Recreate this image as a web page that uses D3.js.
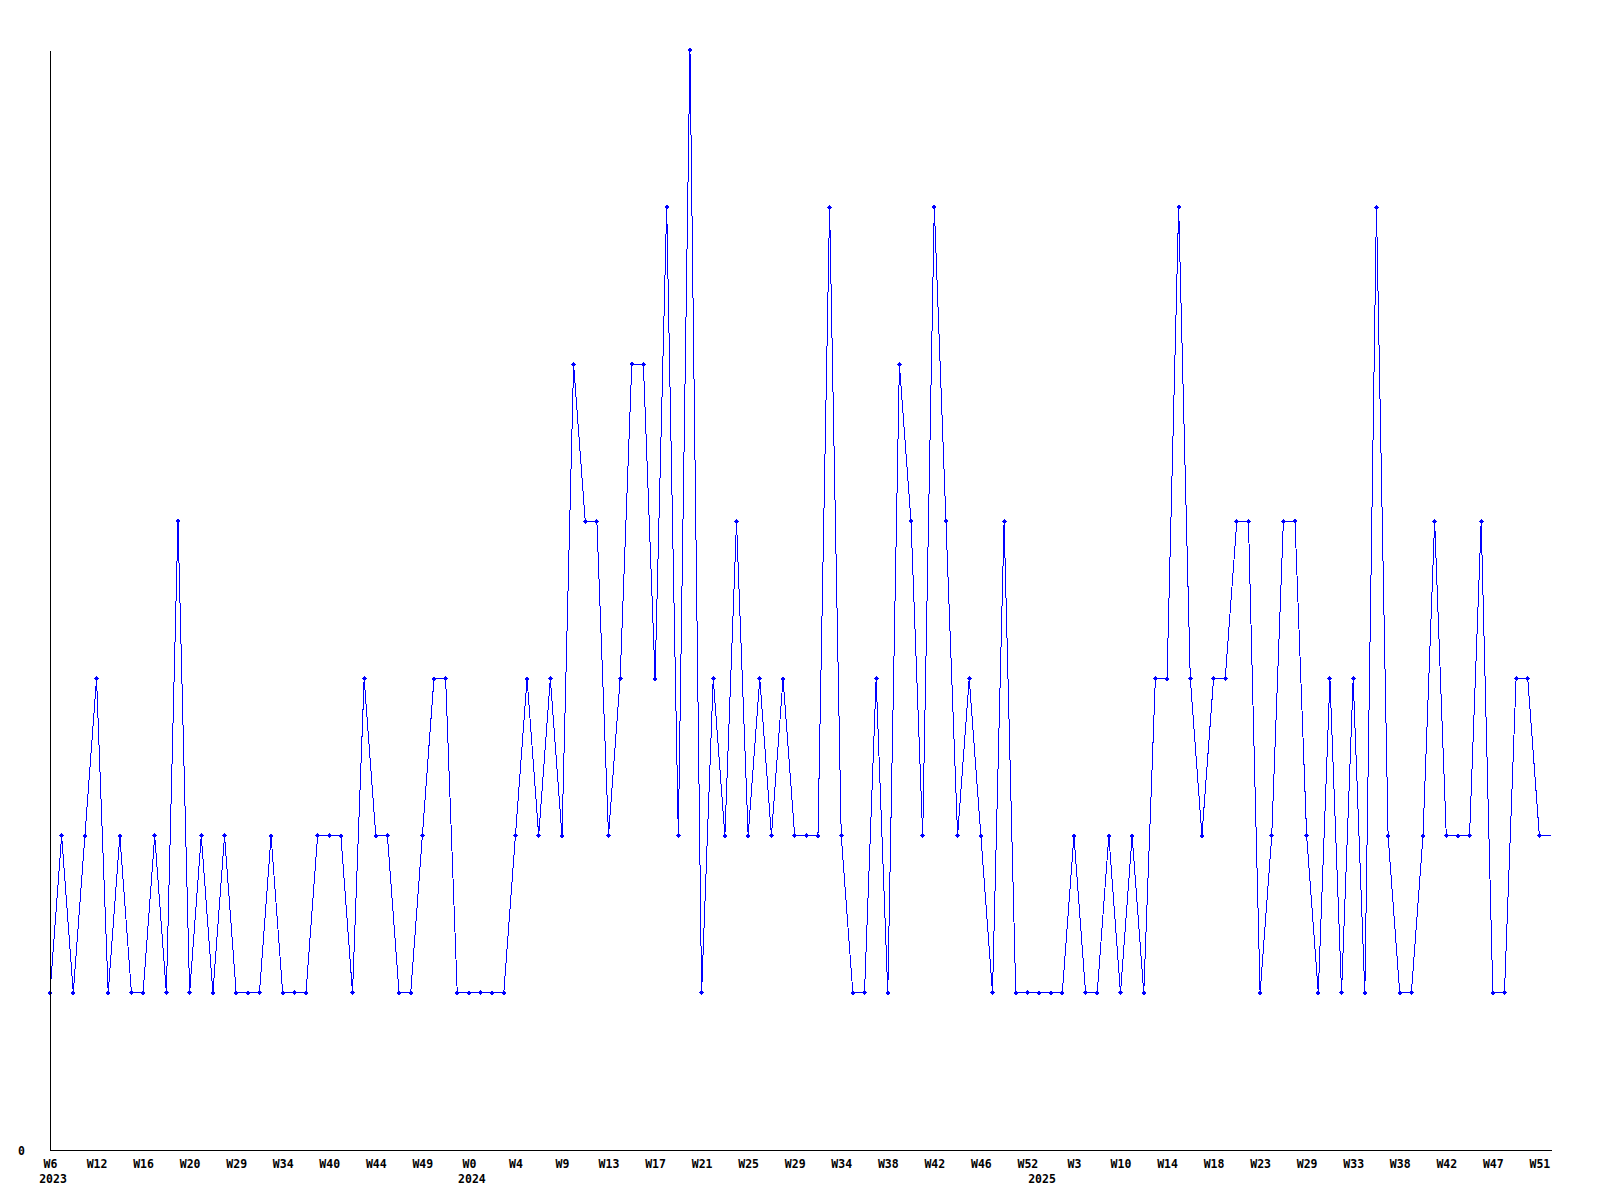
<!DOCTYPE html>
<html>
<head>
<meta charset="utf-8">
<script src="https://cdn.jsdelivr.net/npm/d3@7"></script>
<style>
  body { margin: 0; background: #fff; }
  svg { display: block; }
  .lbl text, text.lbl { font-family: "DejaVu Sans Mono", monospace; font-weight: bold; font-size: 11.5px; fill: #000; }
</style>
</head>
<body>
<div id="chart"></div>
<script>
// weekly values, one per plotted week (index 0 = W6 2023)
const values = [
  1, 2, 1, 2, 3, 1, 2, 1, 1, 2, 1, 4, 1, 2, 1, 2, 1, 1, 1, 2,
  1, 1, 1, 2, 2, 2, 1, 3, 2, 2, 1, 1, 2, 3, 3, 1, 1, 1, 1, 1,
  2, 3, 2, 3, 2, 5, 4, 4, 2, 3, 5, 5, 3, 6, 2, 7, 1, 3, 2, 4,
  2, 3, 2, 3, 2, 2, 2, 6, 2, 1, 1, 3, 1, 5, 4, 2, 6, 4, 2, 3,
  2, 1, 4, 1, 1, 1, 1, 1, 2, 1, 1, 2, 1, 2, 1, 3, 3, 6, 3, 2,
  3, 3, 4, 4, 1, 2, 4, 4, 2, 1, 3, 1, 3, 1, 6, 2, 1, 1, 2, 4,
  2, 2, 2, 4, 1, 1, 3, 3, 2, 2
];

// x labels shown every 4th point
const tickLabels = [
  'W6', 'W12', 'W16', 'W20', 'W29', 'W34', 'W40', 'W44', 'W49', 'W0', 'W4',
  'W9', 'W13', 'W17', 'W21', 'W25', 'W29', 'W34', 'W38', 'W42', 'W46', 'W52',
  'W3', 'W10', 'W14', 'W18', 'W23', 'W29', 'W33', 'W38', 'W42', 'W47', 'W51'
];
const tickEvery = 4;

const years = ['2023', '2024', '2025'];
const yearStart = [0, 36, 85];

const yMax = 7;

const width = 1600;
const height = 1200;
const margin = { top: 50, right: 49, bottom: 50, left: 50 };

const svg = d3.select('#chart').append('svg')
  .attr('width', width)
  .attr('height', height);

const x = d3.scaleLinear()
  .domain([0, values.length - 1])
  .range([margin.left, width - margin.right]);

const y = d3.scaleLinear()
  .domain([0, yMax])
  .range([height - margin.bottom, margin.top]);

const line = d3.line()
  .x((d, i) => x(i))
  .y(d => y(d));

svg.append('path')
  .datum(values)
  .attr('fill', 'none')
  .attr('stroke', '#0000ff')
  .attr('stroke-width', 1)
  .attr('shape-rendering', 'crispEdges')
  .attr('d', line);

// last point runs into the edge, no marker there
svg.append('g')
  .selectAll('path')
  .data(values.slice(0, -1))
  .enter().append('path')
  .attr('transform', (d, i) => `translate(${x(i)},${y(d)})`)
  .attr('d', 'M0,-2.5L2.5,0L0,2.5L-2.5,0Z')
  .attr('fill', '#0000ff')
  .attr('shape-rendering', 'crispEdges');

const xAxis = d3.axisBottom(x)
  .tickValues(tickLabels.map((d, i) => i * tickEvery))
  .tickFormat((d, i) => tickLabels[i])
  .tickSize(0)
  .tickSizeOuter(0);

const gx = svg.append('g')
  .attr('class', 'lbl')
  .attr('transform', `translate(0,${height - margin.bottom})`)
  .call(xAxis);
gx.select('.domain').attr('stroke', '#000').attr('shape-rendering', 'crispEdges');
gx.selectAll('text').attr('y', 17.5).attr('dy', null);

const yAxis = d3.axisLeft(y)
  .tickValues([0])
  .tickFormat(d3.format('d'))
  .tickSize(0)
  .tickSizeOuter(0);

const gy = svg.append('g')
  .attr('class', 'lbl')
  .attr('transform', `translate(${margin.left},0)`)
  .call(yAxis);
gy.select('.domain').attr('stroke', '#000').attr('shape-rendering', 'crispEdges');
gy.selectAll('text').attr('x', -25).attr('dy', '0.35em');

svg.selectAll('text.year')
  .data(years)
  .enter().append('text')
  .attr('class', 'lbl year')
  .attr('text-anchor', 'middle')
  .attr('x', (d, i) => x(yearStart[i]) + 3)
  .attr('y', height - margin.bottom + 33)
  .text(d => d);
</script>
</body>
</html>
